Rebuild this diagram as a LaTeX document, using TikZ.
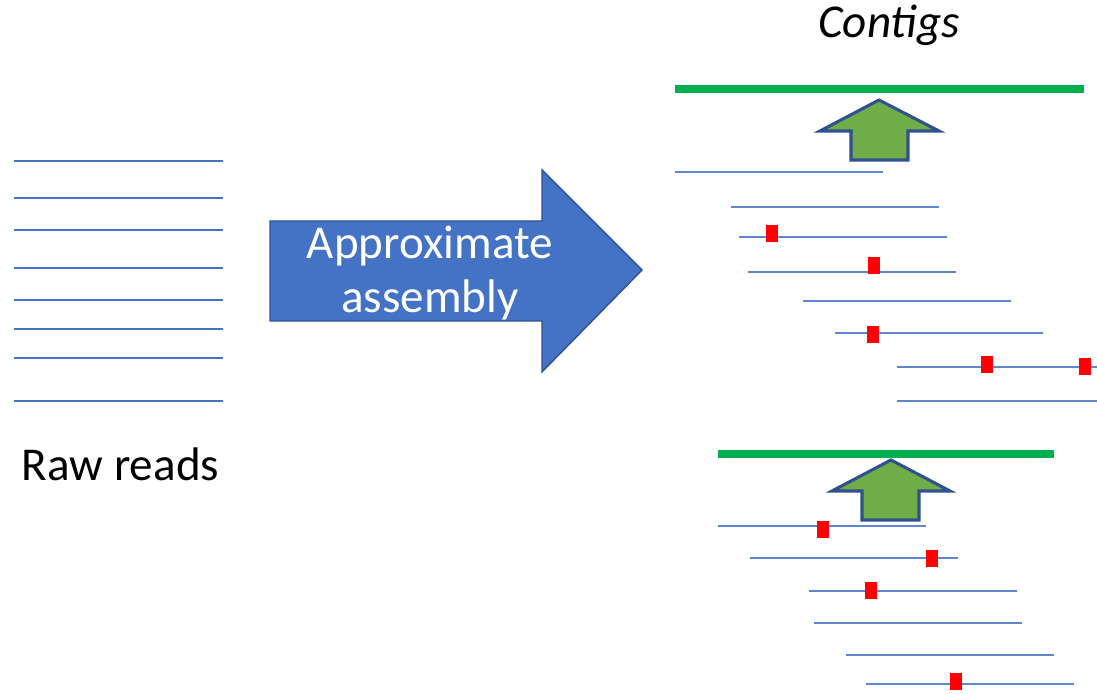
\documentclass[tikz,border=0pt]{standalone}
\usepackage{fontspec}
\setmainfont{Carlito}
\usepackage{tikz}
\usepackage{xcolor}
\definecolor{readblue}{HTML}{4472C4}
\definecolor{edgeblue}{HTML}{2F528F}
\definecolor{contiggreen}{HTML}{00B050}
\definecolor{leafgreen}{HTML}{70AD47}
\usetikzlibrary{arrows.meta}

\newcommand{\snp}[2]{\fill[red](#1-6,#2-8.5)rectangle++(12,17);}

\begin{document}
\begin{tikzpicture}[x=0.025cm,y=-0.025cm,
  read/.style={readblue,line width=0.9pt},
  cread/.style={readblue!85!white,line width=0.8pt},
  contig/.style={contiggreen,line width=5.6pt},
  uparrow/.style={draw=edgeblue,fill=leafgreen,line width=2.2pt},
  bigtext/.style={font=\fontsize{33.5}{38.6}\selectfont}]
\useasboundingbox(0,0)rectangle(1097,694);
\draw[read](14,161)--(223,161)
(14,198)--(223,198)
(14,230)--(223,230)
(14,268)--(223,268)
(14,300)--(223,300)
(14,329)--(223,329)
(14,358)--(223,358)
(14,401)--(223,401);
\node[bigtext,anchor=base west](raw)at(17,480){Raw reads};
\draw[draw=edgeblue,fill=readblue,line width=1pt](270,221)--(542,221)--(542,170)--(642,270)--(542,372)--(542,321)--(270,321)--cycle;
\node[bigtext,white,align=center](approx)at(430,273){Approximate\\assembly};
\node[bigtext,anchor=base](contigs)at(889,38){\itshape Contigs};
\draw[contig](675,89)--(1084,89);
\draw[uparrow](879,100)--(939,131)--(908,131)--(908,160)--(851,160)--(851,131)--(820,131)--cycle;
\draw[cread](675,172)--(883,172)
(731,207)--(939,207)
(739,237)--(947,237)
(748,272)--(956,272)
(803,301)--(1011,301)
(835,333)--(1043,333)
(897,367)--(1097,367)
(897,401)--(1097,401);
\snp{772}{234}
\snp{874}{266}
\snp{873}{335}
\snp{987}{365}
\snp{1085}{367}
\draw[contig](718,454)--(1054,454);
\draw[uparrow](891,460)--(950,491)--(919,491)--(919,520)--(862,520)--(862,491)--(832,491)--cycle;
\draw[cread](718,526)--(926,526)
(750,558)--(958,558)
(809,591)--(1017,591)
(814,623)--(1022,623)
(846,655)--(1054,655)
(866,684)--(1074,684);
\snp{823}{529}
\snp{932}{558}
\snp{871}{590}
\snp{956}{681}
\end{tikzpicture}
\end{document}
